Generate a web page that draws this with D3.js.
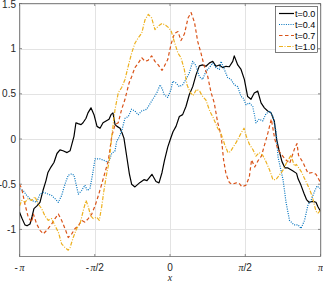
<!DOCTYPE html>
<html><head><meta charset="utf-8">
<script src="https://cdn.jsdelivr.net/npm/d3@7"></script>
<style>
html,body{margin:0;padding:0;background:#fff;}
svg{display:block;}
</style></head>
<body>
<svg id="chart" width="323" height="282"></svg>
<script>
// x positions are in units of pi (x / pi)
const seriesNames = ["t=0.0", "t=0.4", "t=0.7", "t=1.0"];

const x00 = [-1.000,-0.983,-0.964,-0.950,-0.930,-0.917,-0.904,-0.884,-0.864,-0.844,
             -0.824,-0.811,-0.791,-0.771,-0.751,-0.731,-0.711,-0.684,-0.664,-0.651,
             -0.638,-0.625,-0.611,-0.591,-0.578,-0.558,-0.545,-0.525,-0.505,-0.485,
             -0.465,-0.445,-0.425,-0.405,-0.392,-0.379,-0.365,-0.352,-0.332,-0.319,
             -0.306,-0.286,-0.270,-0.255,-0.233,-0.199,-0.173,-0.153,-0.120,-0.093,
             -0.073,-0.053,-0.037,-0.015,0.003,0.020,0.040,0.062,0.084,0.106,
             0.128,0.151,0.173,0.195,0.217,0.239,0.261,0.284,0.306,0.328,
             0.350,0.372,0.394,0.417,0.427,0.450,0.472,0.494,0.516,0.538,
             0.560,0.583,0.605,0.627,0.649,0.671,0.693,0.708,0.724,0.744,
             0.764,0.784,0.815,0.841,0.851,0.870,0.890,0.907,0.924,0.950,
             0.970,0.983,1.000];
const t00 = [-0.81,-0.88,-0.95,-0.96,-0.94,-0.86,-0.77,-0.74,-0.70,-0.57,
             -0.46,-0.37,-0.31,-0.26,-0.16,-0.12,-0.13,-0.15,-0.13,-0.05,
             0.03,0.18,0.17,0.16,0.18,0.23,0.29,0.345,0.27,0.14,
             0.12,0.18,0.20,0.22,0.27,0.29,0.16,0.14,0.12,0.07,
             0.01,-0.21,-0.385,-0.50,-0.53,-0.48,-0.45,-0.46,-0.39,-0.47,
             -0.485,-0.37,-0.24,-0.09,0.00,0.08,0.14,0.25,0.27,0.36,
             0.49,0.58,0.71,0.81,0.82,0.805,0.84,0.86,0.805,0.82,
             0.79,0.805,0.80,0.86,0.92,0.82,0.77,0.66,0.47,0.44,
             0.51,0.53,0.40,0.345,0.31,0.29,0.20,0.00,-0.12,-0.25,
             -0.32,-0.32,-0.35,-0.38,-0.44,-0.51,-0.60,-0.67,-0.70,-0.69,
             -0.70,-0.75,-0.80];

const x04 = [-1.000,-0.975,-0.952,-0.919,-0.886,-0.864,-0.842,-0.809,-0.786,-0.764,
             -0.742,-0.720,-0.698,-0.676,-0.653,-0.638,-0.620,-0.609,-0.587,-0.565,
             -0.550,-0.532,-0.514,-0.498,-0.465,-0.432,-0.410,-0.387,-0.365,-0.354,
             -0.344,-0.321,-0.299,-0.277,-0.255,-0.233,-0.211,-0.188,-0.155,-0.122,
             -0.088,-0.066,-0.053,-0.038,-0.015,0.007,0.018,0.040,0.062,0.084,
             0.106,0.128,0.151,0.173,0.195,0.217,0.239,0.261,0.284,0.306,
             0.328,0.339,0.361,0.383,0.405,0.427,0.450,0.472,0.485,0.505,
             0.527,0.550,0.571,0.593,0.616,0.638,0.663,0.684,0.706,0.718,
             0.751,0.772,0.794,0.824,0.851,0.870,0.894,0.917,0.939,0.960,
             0.977,1.000];
const t04 = [-0.55,-0.57,-0.625,-0.68,-0.70,-0.61,-0.59,-0.61,-0.625,-0.66,
             -0.70,-0.625,-0.50,-0.40,-0.385,-0.40,-0.53,-0.61,-0.57,-0.51,
             -0.57,-0.55,-0.385,-0.22,-0.22,-0.24,-0.26,-0.16,-0.13,-0.02,
             0.00,0.09,0.23,0.25,0.33,0.31,0.27,0.31,0.33,0.42,
             0.51,0.60,0.56,0.49,0.46,0.55,0.64,0.62,0.58,0.60,
             0.66,0.73,0.86,0.81,0.69,0.66,0.75,0.79,0.84,0.79,
             0.77,0.86,0.77,0.68,0.66,0.60,0.58,0.47,0.46,0.38,
             0.40,0.36,0.18,0.22,0.20,0.28,0.31,0.25,0.07,-0.20,
             -0.45,-0.71,-0.90,-0.95,-0.95,-0.99,-0.90,-0.73,-0.67,-0.58,
             -0.52,-0.55];

const x07 = [-1.000,-0.985,-0.964,-0.942,-0.919,-0.908,-0.886,-0.864,-0.842,-0.819,
             -0.786,-0.764,-0.742,-0.720,-0.698,-0.676,-0.653,-0.631,-0.609,-0.587,
             -0.565,-0.543,-0.520,-0.498,-0.476,-0.454,-0.432,-0.410,-0.387,-0.365,
             -0.344,-0.321,-0.299,-0.272,-0.255,-0.233,-0.211,-0.188,-0.166,-0.146,
             -0.122,-0.100,-0.078,-0.053,-0.038,-0.015,0.007,0.030,0.053,0.073,
             0.096,0.120,0.140,0.163,0.184,0.206,0.228,0.251,0.272,0.294,
             0.317,0.339,0.356,0.372,0.394,0.412,0.441,0.459,0.478,0.505,
             0.527,0.542,0.563,0.585,0.607,0.629,0.651,0.673,0.696,0.718,
             0.740,0.764,0.795,0.829,0.844,0.854,0.884,0.917,0.948,0.970,
             1.000];
const t07 = [-0.50,-0.55,-0.72,-0.865,-0.92,-0.83,-0.94,-1.01,-1.05,-1.01,
             -0.94,-0.88,-0.83,-0.90,-0.99,-1.09,-1.05,-0.99,-0.96,-0.90,
             -0.92,-0.88,-0.83,-0.74,-0.625,-0.50,-0.37,-0.24,0.03,0.16,
             0.18,0.33,0.44,0.62,0.69,0.79,0.84,0.90,0.86,0.87,
             0.92,0.86,0.82,0.76,0.805,0.88,1.05,1.17,1.19,1.09,
             1.165,1.34,1.40,1.29,1.08,0.95,0.805,0.69,0.52,0.40,
             0.18,0.05,-0.23,-0.385,-0.48,-0.50,-0.485,-0.49,-0.53,-0.51,
             -0.42,-0.23,-0.31,-0.24,-0.19,-0.06,0.07,0.22,0.00,-0.12,
             -0.17,-0.22,-0.27,-0.10,-0.05,-0.18,-0.26,-0.38,-0.37,-0.39,
             -0.48];

const x10 = [-1.000,-0.985,-0.964,-0.942,-0.919,-0.897,-0.875,-0.853,-0.831,-0.809,
             -0.786,-0.764,-0.742,-0.720,-0.698,-0.676,-0.664,-0.643,-0.620,-0.598,
             -0.576,-0.558,-0.543,-0.527,-0.510,-0.487,-0.470,-0.454,-0.439,-0.421,
             -0.403,-0.387,-0.365,-0.344,-0.321,-0.299,-0.277,-0.255,-0.233,-0.211,
             -0.188,-0.166,-0.144,-0.122,-0.100,-0.078,-0.053,-0.029,-0.007,0.009,
             0.030,0.053,0.073,0.095,0.113,0.133,0.153,0.176,0.197,0.213,
             0.239,0.264,0.286,0.317,0.341,0.363,0.385,0.402,0.419,0.439,
             0.452,0.474,0.492,0.507,0.528,0.552,0.571,0.593,0.616,0.635,
             0.661,0.684,0.704,0.726,0.749,0.772,0.804,0.827,0.839,0.872,
             0.892,0.926,0.944,0.970,0.983,1.000];
const t10 = [-0.74,-0.68,-0.70,-0.66,-0.68,-0.64,-0.72,-0.77,-0.85,-0.90,
             -0.88,-0.96,-1.03,-1.16,-1.20,-1.23,-1.20,-1.09,-0.99,-0.94,
             -0.79,-0.68,-0.75,-0.85,-0.88,-0.865,-0.90,-0.75,-0.57,-0.385,
             -0.24,0.03,0.33,0.51,0.57,0.66,0.81,0.95,1.06,1.12,
             1.17,1.32,1.38,1.34,1.21,1.25,1.28,1.26,1.23,1.19,
             1.07,0.95,0.90,0.77,0.60,0.52,0.48,0.55,0.53,0.48,
             0.43,0.31,0.24,0.12,0.05,-0.06,-0.15,-0.14,-0.09,-0.04,
             0.00,0.07,0.12,0.03,-0.06,-0.12,-0.19,-0.15,-0.18,-0.24,
             -0.34,-0.45,-0.45,-0.40,-0.35,-0.27,-0.18,-0.30,-0.28,-0.36,
             -0.43,-0.55,-0.63,-0.80,-0.82,-0.79];

const yTicks = [-1, -0.5, 0, 0.5, 1, 1.5];
const yTickLabels = ["-1", "-0.5", "0", "0.5", "1", "1.5"];
const xTicks = [-1, -0.5, 0, 0.5, 1];
const xTickLabels = [["-","π",""], ["-","π","/2"], ["0","",""], ["","π","/2"], ["","π",""]];

const colors = ["#000000", "#0072BD", "#D95319", "#EDB120"];
const dashes = [null, "1,1.3", "3.5,2.5", "4,1.5,1,1.5"];
const widths = [1.2, 1.2, 1.2, 1.2];

const L = 19.5, R = 320.5, T = 3.5, B = 256.5;
const svg = d3.select("#chart");
const x = d3.scaleLinear().domain([-1, 1]).range([L, R]);
const y = d3.scaleLinear().domain([-1.3, 1.5]).range([B, T]);

// grid
const g = svg.append("g");
g.selectAll("line.gx").data(xTicks).join("line")
  .attr("x1", d => Math.round(x(d)) + 0.5).attr("x2", d => Math.round(x(d)) + 0.5)
  .attr("y1", T).attr("y2", B).attr("stroke", "#e3e3e3").attr("stroke-width", 1);
g.selectAll("line.gy").data(yTicks).join("line")
  .attr("y1", d => Math.round(y(d)) + 0.5).attr("y2", d => Math.round(y(d)) + 0.5)
  .attr("x1", L).attr("x2", R).attr("stroke", "#e3e3e3").attr("stroke-width", 1);

// clip
svg.append("clipPath").attr("id", "clip").append("rect")
  .attr("x", L).attr("y", T).attr("width", R - L).attr("height", B - T);

const xs = [x00, x04, x07, x10];
const all = [t00, t04, t07, t10];
const lg = svg.append("g").attr("clip-path", "url(#clip)");
all.forEach((s, k) => {
  const pts = s.map((v, i) => [xs[k][i], v]);
  const line = d3.line().x(d => x(d[0])).y(d => y(d[1]));
  lg.append("path").datum(pts).attr("d", line)
    .attr("fill", "none").attr("stroke", colors[k]).attr("stroke-width", widths[k])
    .attr("stroke-linejoin", "round")
    .attr("stroke-dasharray", dashes[k]);
});

// axes box
const axisColor = "#6e6e6e";
svg.append("rect").attr("x", L).attr("y", T).attr("width", R - L).attr("height", B - T)
  .attr("fill", "none").attr("stroke", axisColor).attr("stroke-width", 0.8);

// ticks (inward)
const tl = 2.5;
xTicks.forEach(d => {
  const xx = x(d);
  svg.append("line").attr("x1", xx).attr("x2", xx).attr("y1", B).attr("y2", B - tl).attr("stroke", axisColor).attr("stroke-width", 0.8);
  svg.append("line").attr("x1", xx).attr("x2", xx).attr("y1", T).attr("y2", T + tl).attr("stroke", axisColor).attr("stroke-width", 0.8);
});
yTicks.forEach(d => {
  const yy = y(d);
  svg.append("line").attr("x1", L).attr("x2", L + tl).attr("y1", yy).attr("y2", yy).attr("stroke", axisColor).attr("stroke-width", 0.8);
  svg.append("line").attr("x1", R).attr("x2", R - tl).attr("y1", yy).attr("y2", yy).attr("stroke", axisColor).attr("stroke-width", 0.8);
});

// y tick labels
svg.selectAll("text.yt").data(yTicks).join("text")
  .attr("x", 16).attr("y", d => Math.max(y(d), 4.2)).attr("dy", "0.35em")
  .attr("text-anchor", "end").attr("font-family", "Liberation Sans, Arial, sans-serif")
  .attr("font-size", 10).attr("fill", "#262626")
  .text((d, i) => yTickLabels[i]);

// x tick labels
xTicks.forEach((d, i) => {
  const parts = xTickLabels[i];
  const t = svg.append("text").attr("x", x(d)).attr("y", 270.5)
    .attr("text-anchor", "middle").attr("font-family", "Liberation Sans, Arial, sans-serif")
    .attr("font-size", 10).attr("fill", "#262626");
  if (parts[0]) t.append("tspan").text(parts[0]);
  if (parts[1]) t.append("tspan").attr("font-family", "Liberation Serif, serif").attr("font-style", "italic")
    .attr("dx", parts[0] === "-" ? 1.5 : 0).text(parts[1]);
  if (parts[2]) t.append("tspan").text(parts[2]);
});

// x label
svg.append("text").attr("x", x(0)).attr("y", 281)
  .attr("text-anchor", "middle").attr("font-family", "Liberation Serif, serif")
  .attr("font-style", "italic").attr("font-size", 10).attr("fill", "#262626").text("x");

// legend
const lgX = 275.5, lgY = 6.5, lgW = 42, lgH = 46;
const leg = svg.append("g");
leg.append("rect").attr("x", lgX).attr("y", lgY).attr("width", lgW).attr("height", lgH)
  .attr("fill", "#fff").attr("stroke", "#262626").attr("stroke-width", 0.6);
seriesNames.forEach((n, k) => {
  const yy = 13.5 + k * 11;
  leg.append("line").attr("x1", 279).attr("x2", 294).attr("y1", yy).attr("y2", yy)
    .attr("stroke", colors[k]).attr("stroke-width", widths[k]).attr("stroke-dasharray", dashes[k]);
  leg.append("text").attr("x", 295).attr("y", yy).attr("dy", "0.35em")
    .attr("font-family", "Liberation Sans, Arial, sans-serif").attr("font-size", 9)
    .attr("fill", "#000").text(n);
});
</script>
</body></html>
